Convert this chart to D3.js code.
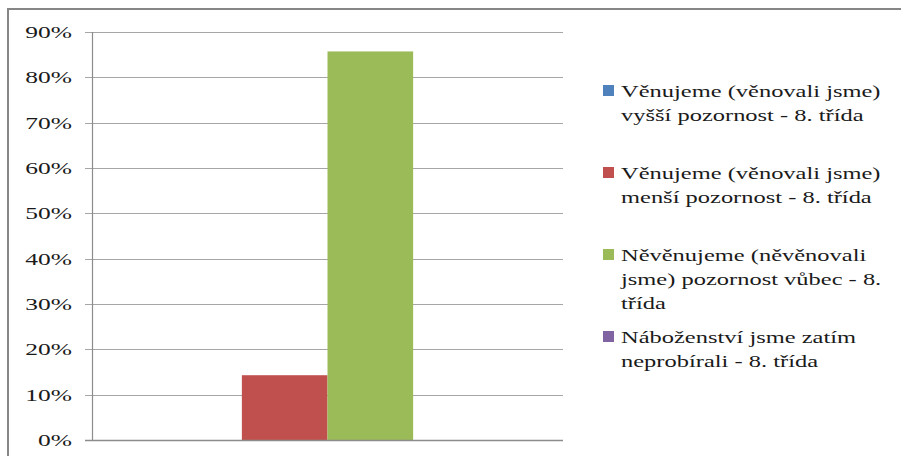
<!DOCTYPE html>
<html>
<head>
<meta charset="utf-8">
<script src="https://cdn.jsdelivr.net/npm/d3@7"></script>
<style>
  html, body { margin: 0; padding: 0; background: #fff; }
  svg { display: block; }
</style>
</head>
<body>
<svg id="chart" width="901" height="456"></svg>
<script>
const categories = ["8. třída"];
const seriesNames = [
  ["Věnujeme (věnovali jsme)", "vyšší pozornost - 8. třída"],
  ["Věnujeme (věnovali jsme)", "menší pozornost - 8. třída"],
  ["Něvěnujeme (něvěnovali", "jsme) pozornost vůbec - 8.", "třída"],
  ["Náboženství jsme zatím", "neprobírali - 8. třída"]
];
const seriesValues = [0, 0.1429, 0.8571, 0];
const seriesColors = ["#4F81BD", "#C0504D", "#9BBB59", "#8064A2"];
const tickValues = [0, 0.1, 0.2, 0.3, 0.4, 0.5, 0.6, 0.7, 0.8, 0.9];

const FONT = "'Liberation Serif', 'Times New Roman', Times, 'DejaVu Serif', serif";
const svg = d3.select("#chart");
const plot = { left: 92, right: 563, top: 32, bottom: 440 };

// outer frame (right/bottom edges outside the picture)
svg.append("rect")
  .attr("x", 8).attr("y", 9).attr("width", 1000).attr("height", 1000)
  .attr("fill", "none").attr("stroke", "#868686").attr("stroke-width", 2);

const y = d3.scaleLinear().domain([0, 0.9]).range([plot.bottom, plot.top]);
const x0 = d3.scaleBand().domain(categories).range([plot.left, plot.right]).paddingInner(0).paddingOuter(0);
const bw = x0.bandwidth();
// Excel gap width 150%: bars occupy 4 / 5.5 of the band
const groupW = bw * 4 / 5.5;
const x1 = d3.scaleBand().domain(d3.range(seriesValues.length))
  .range([0, groupW]).padding(0);
const groupOffset = (bw - groupW) / 2;

// gridlines
svg.append("g")
  .selectAll("line")
  .data(tickValues.filter(d => d > 0))
  .join("line")
  .attr("x1", plot.left - 7).attr("x2", plot.right)
  .attr("y1", d => Math.round(y(d)) + 0.5).attr("y2", d => Math.round(y(d)) + 0.5)
  .attr("stroke", "#a6a6a6").attr("stroke-width", 1.2);

// bars
svg.append("g")
  .selectAll("rect")
  .data(categories.flatMap(c => seriesValues.map((v, i) => ({ c, v, i }))))
  .join("rect")
  .attr("x", d => x0(d.c) + groupOffset + x1(d.i))
  .attr("width", x1.bandwidth())
  .attr("y", d => y(d.v))
  .attr("height", d => y(0) - y(d.v))
  .attr("fill", d => seriesColors[d.i]);

// y axis line
svg.append("line")
  .attr("x1", plot.left + 0.5).attr("x2", plot.left + 0.5)
  .attr("y1", plot.top).attr("y2", plot.bottom)
  .attr("stroke", "#8c8c8c").attr("stroke-width", 1.2);
// x axis line
svg.append("line")
  .attr("x1", plot.left - 7).attr("x2", plot.right)
  .attr("y1", plot.bottom + 0.5).attr("y2", plot.bottom + 0.5)
  .attr("stroke", "#8c8c8c").attr("stroke-width", 1.4);

// y tick labels (horizontally stretched like the reference)
const fmt = d3.format(".0%");
svg.append("g")
  .selectAll("text")
  .data(tickValues)
  .join("text")
  .attr("transform", d => `translate(72,${y(d) + 6}) scale(1.5,1)`)
  .attr("text-anchor", "end")
  .attr("font-family", FONT)
  .attr("font-size", 17)
  .attr("fill", "#1a1a1a")
  .text(d => fmt(d));

// legend
const legend = svg.append("g");
const legendTop = 97, legendStep = 82, lineH = 24;
seriesNames.forEach((lines, i) => {
  const by = legendTop + i * legendStep;
  legend.append("rect")
    .attr("x", 603).attr("y", by - 12).attr("width", 11).attr("height", 11)
    .attr("fill", seriesColors[i]);
  lines.forEach((t, j) => {
    legend.append("text")
      .attr("transform", `translate(621,${by + j * lineH}) scale(1.44,1)`)
      .attr("font-family", FONT)
      .attr("font-size", 17)
      .attr("fill", "#1a1a1a")
      .text(t);
  });
});
</script>
</body>
</html>
